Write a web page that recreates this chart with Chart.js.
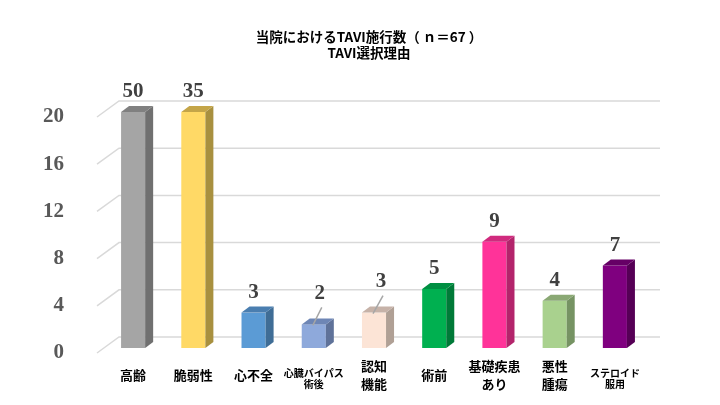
<!DOCTYPE html>
<html>
<head>
<meta charset="utf-8">
<script src="https://cdn.jsdelivr.net/npm/chart.js@4.4.1/dist/chart.umd.min.js"></script>
<style>
  html, body { margin: 0; padding: 0; background: #fff; }
</style>
</head>
<body>
<canvas id="chart" width="720" height="405"></canvas>
<script>
const titleLines = ["当院におけるTAVI施行数（ ｎ＝67 ）", "TAVI選択理由"];
const categories = ["高齢", "脆弱性", "心不全", ["心臓バイパス", "術後"], ["認知", "機能"], "術前", ["基礎疾患", "あり"], ["悪性", "腫瘍"], ["ステロイド", "服用"]];
const counts = [50, 35, 3, 2, 3, 5, 9, 4, 7];
const yTicks = [0, 4, 8, 12, 16, 20];
const yMax = 20;

const frontColors = ["#a5a5a5", "#ffd966", "#5b9bd5", "#8ea9db", "#fce4d6", "#00b050", "#ff3399", "#a9d18e", "#7f007f"];
const sideColors  = ["#707070", "#a8903f", "#3f6d96", "#5f7299", "#b0a095", "#007a38", "#b3246b", "#769363", "#560056"];
const topColors   = ["#808080", "#c4a548", "#4a7eb0", "#6e86b5", "#c6b2a8", "#008f42", "#d02a7e", "#8aa874", "#660066"];

// small labels use a smaller font
const smallLabel = [false, false, false, true, false, false, false, false, true];
// value labels that sit raised with a leader line
const labelShift = { 3: { dx: 6, dy: -11 }, 4: { dx: 7, dy: -11 } };

const DEPTH_X = 8, DEPTH_Y = 6;

const bar3d = {
  id: "bar3d",
  beforeDatasetsDraw(chart) {
    const { ctx, chartArea, scales: { y } } = chart;
    ctx.save();
    ctx.strokeStyle = "#d9d9d9";
    ctx.lineWidth = 1.5;
    yTicks.forEach(v => {
      const py = y.getPixelForValue(v);
      ctx.beginPath();
      ctx.moveTo(chartArea.left - 6, py + 5);
      ctx.lineTo(chartArea.left + 16, py - 11);
      ctx.lineTo(chartArea.right + 15, py - 11);
      ctx.stroke();
    });
    ctx.restore();
  },
  afterDatasetsDraw(chart) {
    const { ctx, chartArea } = chart;
    const meta = chart.getDatasetMeta(0);
    ctx.save();
    meta.data.forEach((el, i) => {
      const { x, y, base, width } = el.getProps(["x", "y", "base", "width"], true);
      const top = Math.max(y, chartArea.top);
      const l = x - width / 2, r = x + width / 2;
      // side face
      ctx.fillStyle = sideColors[i];
      ctx.beginPath();
      ctx.moveTo(r, top);
      ctx.lineTo(r + DEPTH_X, top - DEPTH_Y);
      ctx.lineTo(r + DEPTH_X, base - DEPTH_Y);
      ctx.lineTo(r, base);
      ctx.closePath();
      ctx.fill();
      // top face
      ctx.fillStyle = topColors[i];
      ctx.beginPath();
      ctx.moveTo(l, top);
      ctx.lineTo(l + DEPTH_X, top - DEPTH_Y);
      ctx.lineTo(r + DEPTH_X, top - DEPTH_Y);
      ctx.lineTo(r, top);
      ctx.closePath();
      ctx.fill();

      // value label
      const s = labelShift[i] || { dx: 0, dy: 0 };
      const lx = x + s.dx, ly = top - 20 + s.dy;
      if (labelShift[i]) {
        ctx.strokeStyle = "#a6a6a6";
        ctx.lineWidth = 1.5;
        ctx.beginPath();
        ctx.moveTo(x - 1, top + 1);
        ctx.lineTo(lx + 2, ly + 14);
        ctx.stroke();
      }
      ctx.fillStyle = "#404040";
      ctx.font = 'bold 21px "Liberation Serif"';
      ctx.textAlign = "center";
      ctx.textBaseline = "middle";
      ctx.fillText(String(counts[i]), lx, ly);
    });
    ctx.restore();
  }
};

new Chart(document.getElementById("chart"), {
  type: "bar",
  data: {
    labels: categories,
    datasets: [{
      data: counts,
      backgroundColor: frontColors,
      borderWidth: 0,
      categoryPercentage: 1,
      barPercentage: 0.4,
      clip: 0
    }]
  },
  options: {
    responsive: false,
    animation: false,
    layout: { padding: { top: 0, right: 0, bottom: 0, left: 18 } },
    plugins: {
      legend: { display: false },
      tooltip: { enabled: false },
      title: {
        display: true,
        text: titleLines,
        color: "#000",
        font: { family: '"Noto Sans CJK JP"', size: 13.5, weight: "bold", lineHeight: 1.2 },
        padding: { top: 29, bottom: 50.6 }
      }
    },
    scales: {
      x: {
        grid: { display: false },
        border: { display: false },
        afterFit: s => { s.height = 57; },
        ticks: {
          color: "#000",
          padding: 10,
          maxRotation: 0,
          autoSkip: false,
          crossAlign: "center",
          font: ctx => smallLabel[ctx.index]
            ? { family: '"Noto Sans CJK JP"', size: 10, weight: "bold", lineHeight: 1.1 }
            : { family: '"Noto Sans CJK JP"', size: 13, weight: "bold", lineHeight: 1.4 }
        }
      },
      y: {
        min: 0,
        max: yMax,
        grid: { display: false },
        border: { display: false },
        afterFit: s => { s.width = 85; },
        afterBuildTicks: s => { s.ticks = yTicks.map(v => ({ value: v })); },
        ticks: {
          color: "#595959",
          padding: 31,
          labelOffset: 5,
          font: { family: '"Liberation Serif"', size: 21, weight: "bold" }
        }
      },
      // empty right-hand space so the title centres over the whole page
      pad: {
        type: "linear",
        position: "right",
        display: true,
        grid: { display: false },
        border: { display: false },
        ticks: { display: false },
        afterFit: s => { s.width = 75; }
      }
    }
  },
  plugins: [bar3d]
});
</script>
</body>
</html>
